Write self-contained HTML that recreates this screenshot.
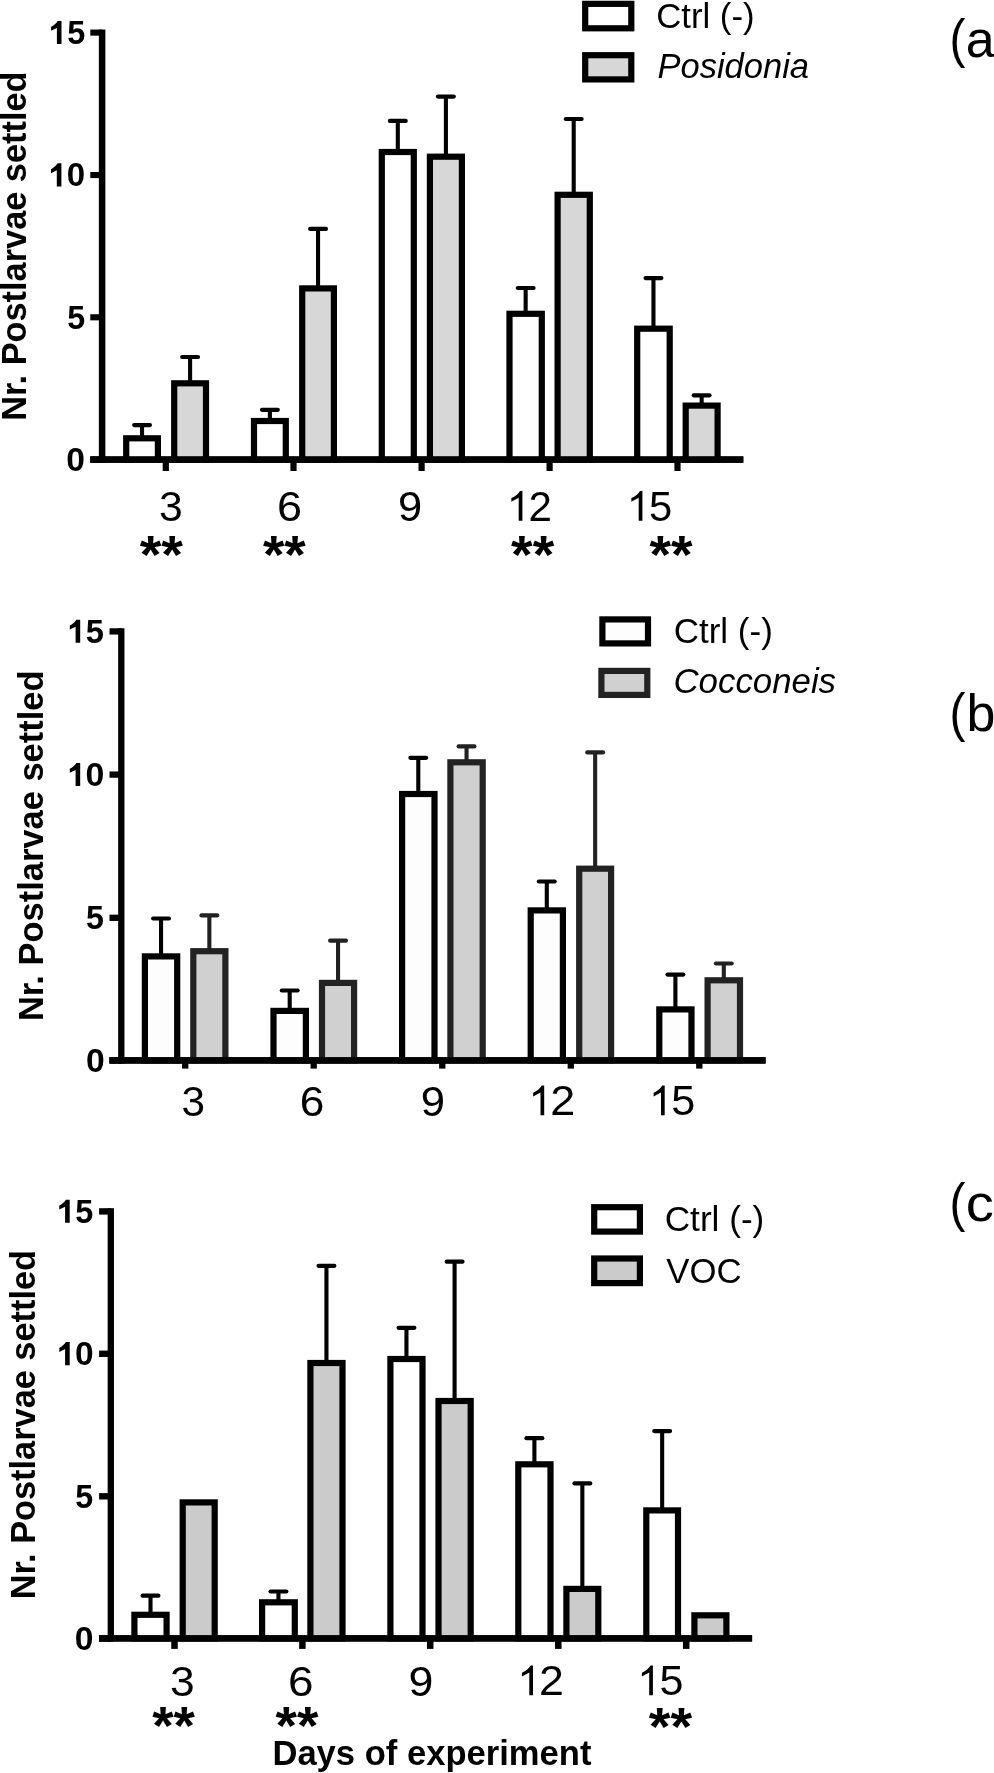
<!DOCTYPE html>
<html><head><meta charset="utf-8"><style>
html,body{margin:0;padding:0;background:#fff;}
body{width:994px;height:1773px;overflow:hidden;}
svg{display:block;will-change:transform;}
text{font-family:"Liberation Sans",sans-serif;}
</style></head><body>
<svg width="994" height="1773" viewBox="0 0 994 1773">

<rect x="98.85" y="29.55" width="6.50" height="433.25" fill="#000"/>
<rect x="90.30" y="29.55" width="11.80" height="6.10" fill="#000"/>
<rect x="90.30" y="172.00" width="11.80" height="6.10" fill="#000"/>
<rect x="90.30" y="314.25" width="11.80" height="6.10" fill="#000"/>
<rect x="90.30" y="456.55" width="11.80" height="6.10" fill="#000"/>
<rect x="90.30" y="456.40" width="653.00" height="6.40" fill="#000"/>
<rect x="162.70" y="459.60" width="6.20" height="11.40" fill="#000"/>
<rect x="290.40" y="459.60" width="6.20" height="11.40" fill="#000"/>
<rect x="418.50" y="459.60" width="6.20" height="11.40" fill="#000"/>
<rect x="546.50" y="459.60" width="6.20" height="11.40" fill="#000"/>
<rect x="674.40" y="459.60" width="6.20" height="11.40" fill="#000"/>
<line x1="142.05" y1="438.30" x2="142.05" y2="425.10" stroke="#000" stroke-width="4.1"/>
<line x1="134.15" y1="425.10" x2="149.95" y2="425.10" stroke="#000" stroke-width="4.2" stroke-linecap="round"/>
<rect x="126.20" y="438.30" width="31.70" height="21.30" fill="#fff" stroke="#000" stroke-width="6.2"/>
<line x1="190.10" y1="383.30" x2="190.10" y2="357.00" stroke="#000" stroke-width="4.1"/>
<line x1="182.20" y1="357.00" x2="198.00" y2="357.00" stroke="#000" stroke-width="4.2" stroke-linecap="round"/>
<rect x="174.20" y="383.30" width="31.80" height="76.30" fill="#d7d7d7" stroke="#000" stroke-width="6.2"/>
<line x1="269.90" y1="421.00" x2="269.90" y2="409.80" stroke="#000" stroke-width="4.1"/>
<line x1="262.00" y1="409.80" x2="277.80" y2="409.80" stroke="#000" stroke-width="4.2" stroke-linecap="round"/>
<rect x="254.00" y="421.00" width="31.80" height="38.60" fill="#fff" stroke="#000" stroke-width="6.2"/>
<line x1="318.05" y1="288.40" x2="318.05" y2="228.90" stroke="#000" stroke-width="4.1"/>
<line x1="310.15" y1="228.90" x2="325.95" y2="228.90" stroke="#000" stroke-width="4.2" stroke-linecap="round"/>
<rect x="302.20" y="288.40" width="31.70" height="171.20" fill="#d7d7d7" stroke="#000" stroke-width="6.2"/>
<line x1="397.80" y1="152.00" x2="397.80" y2="120.90" stroke="#000" stroke-width="4.1"/>
<line x1="389.90" y1="120.90" x2="405.70" y2="120.90" stroke="#000" stroke-width="4.2" stroke-linecap="round"/>
<rect x="381.80" y="152.00" width="32.00" height="307.60" fill="#fff" stroke="#000" stroke-width="6.2"/>
<line x1="445.90" y1="156.70" x2="445.90" y2="96.60" stroke="#000" stroke-width="4.1"/>
<line x1="438.00" y1="96.60" x2="453.80" y2="96.60" stroke="#000" stroke-width="4.2" stroke-linecap="round"/>
<rect x="429.90" y="156.70" width="32.00" height="302.90" fill="#d7d7d7" stroke="#000" stroke-width="6.2"/>
<line x1="525.65" y1="313.80" x2="525.65" y2="288.00" stroke="#000" stroke-width="4.1"/>
<line x1="517.75" y1="288.00" x2="533.55" y2="288.00" stroke="#000" stroke-width="4.2" stroke-linecap="round"/>
<rect x="509.50" y="313.80" width="32.30" height="145.80" fill="#fff" stroke="#000" stroke-width="6.2"/>
<line x1="573.70" y1="194.80" x2="573.70" y2="119.00" stroke="#000" stroke-width="4.1"/>
<line x1="565.80" y1="119.00" x2="581.60" y2="119.00" stroke="#000" stroke-width="4.2" stroke-linecap="round"/>
<rect x="557.60" y="194.80" width="32.20" height="264.80" fill="#d7d7d7" stroke="#000" stroke-width="6.2"/>
<line x1="653.45" y1="328.70" x2="653.45" y2="278.10" stroke="#000" stroke-width="4.1"/>
<line x1="645.55" y1="278.10" x2="661.35" y2="278.10" stroke="#000" stroke-width="4.2" stroke-linecap="round"/>
<rect x="637.20" y="328.70" width="32.50" height="130.90" fill="#fff" stroke="#000" stroke-width="6.2"/>
<line x1="701.65" y1="405.60" x2="701.65" y2="395.30" stroke="#000" stroke-width="4.1"/>
<line x1="693.75" y1="395.30" x2="709.55" y2="395.30" stroke="#000" stroke-width="4.2" stroke-linecap="round"/>
<rect x="685.70" y="405.60" width="31.90" height="54.00" fill="#d7d7d7" stroke="#000" stroke-width="6.2"/>
<rect x="90.30" y="456.40" width="653.00" height="6.40" fill="#000"/>
<rect x="585.20" y="3.85" width="46.10" height="24.45" fill="#fff" stroke="#000" stroke-width="6.2"/>
<rect x="585.20" y="55.20" width="46.10" height="24.20" fill="#d7d7d7" stroke="#000" stroke-width="6.2"/>
<path d="M56.90,44.00 L61.50,44.00 L61.50,20.90 L57.70,20.90 C56.30,23.30 53.70,25.50 51.10,26.70 L51.10,30.70 L56.90,27.90 Z" fill="#000"/><text x="67.15" y="44.00" style="font-weight:700;font-style:normal;font-size:34px" fill="#000" textLength="18.02" lengthAdjust="spacingAndGlyphs">5</text>
<path d="M56.80,186.45 L61.40,186.45 L61.40,163.35 L57.60,163.35 C56.20,165.75 53.60,167.95 51.00,169.15 L51.00,173.15 L56.80,170.35 Z" fill="#000"/><text x="66.78" y="186.45" style="font-weight:700;font-style:normal;font-size:34px" fill="#000" textLength="18.38" lengthAdjust="spacingAndGlyphs">0</text>
<text x="67.15" y="328.70" style="font-weight:700;font-style:normal;font-size:34px" fill="#000" textLength="17.91" lengthAdjust="spacingAndGlyphs">5</text>
<text x="66.36" y="471.00" style="font-weight:700;font-style:normal;font-size:34px" fill="#000" textLength="18.73" lengthAdjust="spacingAndGlyphs">0</text>
<text x="159.06" y="521.40" style="font-weight:400;font-style:normal;font-size:43px" fill="#000" textLength="23.74" lengthAdjust="spacingAndGlyphs">3</text>
<text x="276.94" y="521.40" style="font-weight:400;font-style:normal;font-size:43px" fill="#000" textLength="25.07" lengthAdjust="spacingAndGlyphs">6</text>
<text x="397.98" y="521.40" style="font-weight:400;font-style:normal;font-size:43px" fill="#000" textLength="24.16" lengthAdjust="spacingAndGlyphs">9</text>
<path d="M518.70,520.70 L522.40,520.70 L522.40,491.00 L520.00,491.00 C518.50,493.80 515.30,496.40 511.40,498.10 L511.30,501.80 L518.70,497.80 Z" fill="#000"/><text x="528.60" y="520.70" style="font-weight:400;font-style:normal;font-size:43px" fill="#000" textLength="23.43" lengthAdjust="spacingAndGlyphs">2</text>
<path d="M638.70,520.70 L642.40,520.70 L642.40,491.00 L640.00,491.00 C638.50,493.80 635.30,496.40 631.40,498.10 L631.30,501.80 L638.70,497.80 Z" fill="#000"/><text x="649.10" y="520.70" style="font-weight:400;font-style:normal;font-size:43px" fill="#000" textLength="23.27" lengthAdjust="spacingAndGlyphs">5</text>
<text x="139.74" y="572.95" style="font-weight:700;font-style:normal;font-size:54px" fill="#000" textLength="43.25" lengthAdjust="spacingAndGlyphs">**</text>
<text x="262.95" y="572.95" style="font-weight:700;font-style:normal;font-size:54px" fill="#000" textLength="42.84" lengthAdjust="spacingAndGlyphs">**</text>
<text x="511.14" y="572.95" style="font-weight:700;font-style:normal;font-size:54px" fill="#000" textLength="43.04" lengthAdjust="spacingAndGlyphs">**</text>
<text x="649.54" y="572.95" style="font-weight:700;font-style:normal;font-size:54px" fill="#000" textLength="43.04" lengthAdjust="spacingAndGlyphs">**</text>
<text x="656.24" y="27.70" style="font-weight:400;font-style:normal;font-size:34.5px" fill="#000" textLength="98.26" lengthAdjust="spacingAndGlyphs">Ctrl (-)</text>
<text x="657.50" y="78.00" style="font-weight:400;font-style:italic;font-size:34.5px" fill="#000" textLength="151.50" lengthAdjust="spacingAndGlyphs">Posidonia</text>
<text x="949.38" y="56.70" style="font-weight:400;font-style:normal;font-size:53.5px" fill="#000" textLength="16.00" lengthAdjust="spacingAndGlyphs">(</text>
<text x="965.65" y="56.70" style="font-weight:400;font-style:normal;font-size:52px" fill="#000">a</text>
<text transform="translate(26.20,420.68) rotate(-90)" x="0" y="0" style="font-weight:700;font-style:normal;font-size:35.5px" textLength="349.19" lengthAdjust="spacingAndGlyphs">Nr. Postlarvae settled</text>
<rect x="118.15" y="628.25" width="6.30" height="435.35" fill="#000"/>
<rect x="109.50" y="628.25" width="11.80" height="6.30" fill="#000"/>
<rect x="109.50" y="771.45" width="11.80" height="6.30" fill="#000"/>
<rect x="109.50" y="914.65" width="11.80" height="6.30" fill="#000"/>
<rect x="109.50" y="1057.25" width="11.80" height="6.30" fill="#000"/>
<rect x="109.50" y="1057.20" width="656.10" height="6.40" fill="#000"/>
<rect x="182.05" y="1060.40" width="6.30" height="8.20" fill="#000"/>
<rect x="310.55" y="1060.40" width="6.30" height="8.20" fill="#000"/>
<rect x="439.15" y="1060.40" width="6.30" height="8.20" fill="#000"/>
<rect x="567.65" y="1060.40" width="6.30" height="8.20" fill="#000"/>
<rect x="696.15" y="1060.40" width="6.30" height="8.20" fill="#000"/>
<line x1="161.05" y1="956.40" x2="161.05" y2="918.50" stroke="#000" stroke-width="4.1"/>
<line x1="153.15" y1="918.50" x2="168.95" y2="918.50" stroke="#000" stroke-width="4.2" stroke-linecap="round"/>
<rect x="144.90" y="956.40" width="32.30" height="104.00" fill="#fdfdfd" stroke="#000" stroke-width="6.2"/>
<line x1="209.35" y1="951.20" x2="209.35" y2="915.40" stroke="#222" stroke-width="4.1"/>
<line x1="201.45" y1="915.40" x2="217.25" y2="915.40" stroke="#222" stroke-width="4.2" stroke-linecap="round"/>
<rect x="193.30" y="951.20" width="32.10" height="109.20" fill="#d0d0d0" stroke="#222" stroke-width="6.2"/>
<line x1="289.70" y1="1010.90" x2="289.70" y2="990.50" stroke="#000" stroke-width="4.1"/>
<line x1="281.80" y1="990.50" x2="297.60" y2="990.50" stroke="#000" stroke-width="4.2" stroke-linecap="round"/>
<rect x="273.50" y="1010.90" width="32.40" height="49.50" fill="#fdfdfd" stroke="#000" stroke-width="6.2"/>
<line x1="338.05" y1="982.90" x2="338.05" y2="940.70" stroke="#222" stroke-width="4.1"/>
<line x1="330.15" y1="940.70" x2="345.95" y2="940.70" stroke="#222" stroke-width="4.2" stroke-linecap="round"/>
<rect x="322.00" y="982.90" width="32.10" height="77.50" fill="#d0d0d0" stroke="#222" stroke-width="6.2"/>
<line x1="418.30" y1="794.00" x2="418.30" y2="757.80" stroke="#000" stroke-width="4.1"/>
<line x1="410.40" y1="757.80" x2="426.20" y2="757.80" stroke="#000" stroke-width="4.2" stroke-linecap="round"/>
<rect x="402.10" y="794.00" width="32.40" height="266.40" fill="#fdfdfd" stroke="#000" stroke-width="6.2"/>
<line x1="466.55" y1="762.30" x2="466.55" y2="746.40" stroke="#222" stroke-width="4.1"/>
<line x1="458.65" y1="746.40" x2="474.45" y2="746.40" stroke="#222" stroke-width="4.2" stroke-linecap="round"/>
<rect x="450.40" y="762.30" width="32.30" height="298.10" fill="#d0d0d0" stroke="#222" stroke-width="6.2"/>
<line x1="546.80" y1="910.40" x2="546.80" y2="881.50" stroke="#000" stroke-width="4.1"/>
<line x1="538.90" y1="881.50" x2="554.70" y2="881.50" stroke="#000" stroke-width="4.2" stroke-linecap="round"/>
<rect x="530.70" y="910.40" width="32.20" height="150.00" fill="#fdfdfd" stroke="#000" stroke-width="6.2"/>
<line x1="595.15" y1="868.70" x2="595.15" y2="752.40" stroke="#222" stroke-width="4.1"/>
<line x1="587.25" y1="752.40" x2="603.05" y2="752.40" stroke="#222" stroke-width="4.2" stroke-linecap="round"/>
<rect x="579.20" y="868.70" width="31.90" height="191.70" fill="#d0d0d0" stroke="#222" stroke-width="6.2"/>
<line x1="675.40" y1="1009.40" x2="675.40" y2="974.60" stroke="#000" stroke-width="4.1"/>
<line x1="667.50" y1="974.60" x2="683.30" y2="974.60" stroke="#000" stroke-width="4.2" stroke-linecap="round"/>
<rect x="659.30" y="1009.40" width="32.20" height="51.00" fill="#fdfdfd" stroke="#000" stroke-width="6.2"/>
<line x1="723.80" y1="980.30" x2="723.80" y2="963.50" stroke="#222" stroke-width="4.1"/>
<line x1="715.90" y1="963.50" x2="731.70" y2="963.50" stroke="#222" stroke-width="4.2" stroke-linecap="round"/>
<rect x="707.60" y="980.30" width="32.40" height="80.10" fill="#d0d0d0" stroke="#222" stroke-width="6.2"/>
<rect x="109.50" y="1057.20" width="656.10" height="6.40" fill="#000"/>
<rect x="602.40" y="619.40" width="45.60" height="24.00" fill="#fdfdfd" stroke="#000" stroke-width="6.2"/>
<rect x="601.40" y="670.90" width="45.90" height="24.00" fill="#d0d0d0" stroke="#222" stroke-width="6.2"/>
<path d="M75.60,642.80 L80.20,642.80 L80.20,619.70 L76.40,619.70 C75.00,622.10 72.40,624.30 69.80,625.50 L69.80,629.50 L75.60,626.70 Z" fill="#000"/><text x="85.84" y="642.80" style="font-weight:700;font-style:normal;font-size:34px" fill="#000" textLength="18.13" lengthAdjust="spacingAndGlyphs">5</text>
<path d="M75.60,786.00 L80.20,786.00 L80.20,762.90 L76.40,762.90 C75.00,765.30 72.40,767.50 69.80,768.70 L69.80,772.70 L75.60,769.90 Z" fill="#000"/><text x="85.55" y="786.00" style="font-weight:700;font-style:normal;font-size:34px" fill="#000" textLength="18.85" lengthAdjust="spacingAndGlyphs">0</text>
<text x="86.05" y="929.20" style="font-weight:700;font-style:normal;font-size:34px" fill="#000" textLength="17.91" lengthAdjust="spacingAndGlyphs">5</text>
<text x="85.96" y="1071.80" style="font-weight:700;font-style:normal;font-size:34px" fill="#000" textLength="18.73" lengthAdjust="spacingAndGlyphs">0</text>
<text x="181.58" y="1115.50" style="font-weight:400;font-style:normal;font-size:43px" fill="#000" textLength="23.51" lengthAdjust="spacingAndGlyphs">3</text>
<text x="299.69" y="1115.50" style="font-weight:400;font-style:normal;font-size:43px" fill="#000" textLength="24.59" lengthAdjust="spacingAndGlyphs">6</text>
<text x="420.67" y="1115.50" style="font-weight:400;font-style:normal;font-size:43px" fill="#000" textLength="24.28" lengthAdjust="spacingAndGlyphs">9</text>
<path d="M540.50,1115.30 L544.20,1115.30 L544.20,1085.60 L541.80,1085.60 C540.30,1088.40 537.10,1091.00 533.20,1092.70 L533.10,1096.40 L540.50,1092.40 Z" fill="#000"/><text x="550.25" y="1115.30" style="font-weight:400;font-style:normal;font-size:43px" fill="#000" textLength="25.03" lengthAdjust="spacingAndGlyphs">2</text>
<path d="M661.00,1115.30 L664.70,1115.30 L664.70,1085.60 L662.30,1085.60 C660.80,1088.40 657.60,1091.00 653.70,1092.70 L653.60,1096.40 L661.00,1092.40 Z" fill="#000"/><text x="671.35" y="1115.30" style="font-weight:400;font-style:normal;font-size:43px" fill="#000" textLength="23.98" lengthAdjust="spacingAndGlyphs">5</text>
<text x="673.72" y="642.70" style="font-weight:400;font-style:normal;font-size:34.5px" fill="#000" textLength="99.09" lengthAdjust="spacingAndGlyphs">Ctrl (-)</text>
<text x="673.48" y="693.00" style="font-weight:400;font-style:italic;font-size:34.5px" fill="#000" textLength="162.57" lengthAdjust="spacingAndGlyphs">Cocconeis</text>
<text x="949.38" y="731.00" style="font-weight:400;font-style:normal;font-size:53.5px" fill="#000" textLength="16.00" lengthAdjust="spacingAndGlyphs">(</text>
<text x="966.55" y="731.00" style="font-weight:400;font-style:normal;font-size:52px" fill="#000">b</text>
<text transform="translate(42.90,1021.08) rotate(-90)" x="0" y="0" style="font-weight:700;font-style:normal;font-size:35.5px" textLength="350.61" lengthAdjust="spacingAndGlyphs">Nr. Postlarvae settled</text>
<rect x="107.65" y="1208.20" width="6.30" height="433.35" fill="#000"/>
<rect x="99.10" y="1208.20" width="11.70" height="6.40" fill="#000"/>
<rect x="99.10" y="1350.60" width="11.70" height="6.40" fill="#000"/>
<rect x="99.10" y="1493.10" width="11.70" height="6.40" fill="#000"/>
<rect x="99.10" y="1635.20" width="11.70" height="6.40" fill="#000"/>
<rect x="99.10" y="1635.25" width="653.00" height="6.30" fill="#000"/>
<rect x="171.25" y="1638.40" width="6.50" height="10.50" fill="#000"/>
<rect x="299.15" y="1638.40" width="6.50" height="10.50" fill="#000"/>
<rect x="426.95" y="1638.40" width="6.50" height="10.50" fill="#000"/>
<rect x="555.05" y="1638.40" width="6.50" height="10.50" fill="#000"/>
<rect x="682.95" y="1638.40" width="6.50" height="10.50" fill="#000"/>
<line x1="150.50" y1="1614.80" x2="150.50" y2="1595.70" stroke="#000" stroke-width="4.1"/>
<line x1="142.60" y1="1595.70" x2="158.40" y2="1595.70" stroke="#000" stroke-width="4.2" stroke-linecap="round"/>
<rect x="134.40" y="1614.80" width="32.20" height="23.60" fill="#fff" stroke="#000" stroke-width="6.2"/>
<rect x="182.70" y="1502.40" width="32.00" height="136.00" fill="#cbcbcb" stroke="#000" stroke-width="6.2"/>
<line x1="278.45" y1="1602.30" x2="278.45" y2="1591.50" stroke="#000" stroke-width="4.1"/>
<line x1="270.55" y1="1591.50" x2="286.35" y2="1591.50" stroke="#000" stroke-width="4.2" stroke-linecap="round"/>
<rect x="262.10" y="1602.30" width="32.70" height="36.10" fill="#fff" stroke="#000" stroke-width="6.2"/>
<line x1="326.45" y1="1363.00" x2="326.45" y2="1265.80" stroke="#000" stroke-width="4.1"/>
<line x1="318.55" y1="1265.80" x2="334.35" y2="1265.80" stroke="#000" stroke-width="4.2" stroke-linecap="round"/>
<rect x="310.40" y="1363.00" width="32.10" height="275.40" fill="#cbcbcb" stroke="#000" stroke-width="6.2"/>
<line x1="406.45" y1="1359.00" x2="406.45" y2="1327.80" stroke="#000" stroke-width="4.1"/>
<line x1="398.55" y1="1327.80" x2="414.35" y2="1327.80" stroke="#000" stroke-width="4.2" stroke-linecap="round"/>
<rect x="390.40" y="1359.00" width="32.10" height="279.40" fill="#fff" stroke="#000" stroke-width="6.2"/>
<line x1="454.60" y1="1401.00" x2="454.60" y2="1261.70" stroke="#000" stroke-width="4.1"/>
<line x1="446.70" y1="1261.70" x2="462.50" y2="1261.70" stroke="#000" stroke-width="4.2" stroke-linecap="round"/>
<rect x="438.50" y="1401.00" width="32.20" height="237.40" fill="#cbcbcb" stroke="#000" stroke-width="6.2"/>
<line x1="534.40" y1="1464.30" x2="534.40" y2="1438.20" stroke="#000" stroke-width="4.1"/>
<line x1="526.50" y1="1438.20" x2="542.30" y2="1438.20" stroke="#000" stroke-width="4.2" stroke-linecap="round"/>
<rect x="518.30" y="1464.30" width="32.20" height="174.10" fill="#fff" stroke="#000" stroke-width="6.2"/>
<line x1="582.35" y1="1588.90" x2="582.35" y2="1483.40" stroke="#000" stroke-width="4.1"/>
<line x1="574.45" y1="1483.40" x2="590.25" y2="1483.40" stroke="#000" stroke-width="4.2" stroke-linecap="round"/>
<rect x="566.40" y="1588.90" width="31.90" height="49.50" fill="#cbcbcb" stroke="#000" stroke-width="6.2"/>
<line x1="662.15" y1="1510.40" x2="662.15" y2="1431.10" stroke="#000" stroke-width="4.1"/>
<line x1="654.25" y1="1431.10" x2="670.05" y2="1431.10" stroke="#000" stroke-width="4.2" stroke-linecap="round"/>
<rect x="646.30" y="1510.40" width="31.70" height="128.00" fill="#fff" stroke="#000" stroke-width="6.2"/>
<rect x="694.40" y="1615.30" width="32.00" height="23.10" fill="#cbcbcb" stroke="#000" stroke-width="6.2"/>
<rect x="99.10" y="1635.25" width="653.00" height="6.30" fill="#000"/>
<rect x="594.20" y="1207.20" width="45.70" height="24.40" fill="#fff" stroke="#000" stroke-width="6.2"/>
<rect x="594.20" y="1258.50" width="45.70" height="24.60" fill="#cbcbcb" stroke="#000" stroke-width="6.2"/>
<path d="M65.10,1222.80 L69.70,1222.80 L69.70,1199.70 L65.90,1199.70 C64.50,1202.10 61.90,1204.30 59.30,1205.50 L59.30,1209.50 L65.10,1206.70 Z" fill="#000"/><text x="75.35" y="1222.80" style="font-weight:700;font-style:normal;font-size:34px" fill="#000" textLength="18.02" lengthAdjust="spacingAndGlyphs">5</text>
<path d="M65.10,1365.20 L69.70,1365.20 L69.70,1342.10 L65.90,1342.10 C64.50,1344.50 61.90,1346.70 59.30,1347.90 L59.30,1351.90 L65.10,1349.10 Z" fill="#000"/><text x="75.07" y="1365.20" style="font-weight:700;font-style:normal;font-size:34px" fill="#000" textLength="18.62" lengthAdjust="spacingAndGlyphs">0</text>
<text x="75.35" y="1507.70" style="font-weight:700;font-style:normal;font-size:34px" fill="#000" textLength="17.91" lengthAdjust="spacingAndGlyphs">5</text>
<text x="74.86" y="1649.80" style="font-weight:700;font-style:normal;font-size:34px" fill="#000" textLength="18.73" lengthAdjust="spacingAndGlyphs">0</text>
<text x="169.99" y="1695.70" style="font-weight:400;font-style:normal;font-size:43px" fill="#000" textLength="24.69" lengthAdjust="spacingAndGlyphs">3</text>
<text x="288.10" y="1695.70" style="font-weight:400;font-style:normal;font-size:43px" fill="#000" textLength="25.56" lengthAdjust="spacingAndGlyphs">6</text>
<text x="408.52" y="1695.70" style="font-weight:400;font-style:normal;font-size:43px" fill="#000" textLength="24.88" lengthAdjust="spacingAndGlyphs">9</text>
<path d="M529.30,1695.30 L533.00,1695.30 L533.00,1665.60 L530.60,1665.60 C529.10,1668.40 525.90,1671.00 522.00,1672.70 L521.90,1676.40 L529.30,1672.40 Z" fill="#000"/><text x="539.06" y="1695.30" style="font-weight:400;font-style:normal;font-size:43px" fill="#000" textLength="24.90" lengthAdjust="spacingAndGlyphs">2</text>
<path d="M649.20,1695.30 L652.90,1695.30 L652.90,1665.60 L650.50,1665.60 C649.00,1668.40 645.80,1671.00 641.90,1672.70 L641.80,1676.40 L649.20,1672.40 Z" fill="#000"/><text x="659.55" y="1695.30" style="font-weight:400;font-style:normal;font-size:43px" fill="#000" textLength="23.98" lengthAdjust="spacingAndGlyphs">5</text>
<text x="152.25" y="1743.85" style="font-weight:700;font-style:normal;font-size:54px" fill="#000" textLength="42.74" lengthAdjust="spacingAndGlyphs">**</text>
<text x="275.55" y="1743.85" style="font-weight:700;font-style:normal;font-size:54px" fill="#000" textLength="42.84" lengthAdjust="spacingAndGlyphs">**</text>
<text x="648.74" y="1744.85" style="font-weight:700;font-style:normal;font-size:54px" fill="#000" textLength="43.35" lengthAdjust="spacingAndGlyphs">**</text>
<text x="664.72" y="1231.20" style="font-weight:400;font-style:normal;font-size:34.5px" fill="#000" textLength="99.62" lengthAdjust="spacingAndGlyphs">Ctrl (-)</text>
<text x="666.25" y="1282.75" style="font-weight:400;font-style:normal;font-size:34.5px" fill="#000" textLength="75.28" lengthAdjust="spacingAndGlyphs">VOC</text>
<text x="949.38" y="1221.00" style="font-weight:400;font-style:normal;font-size:53.5px" fill="#000" textLength="16.00" lengthAdjust="spacingAndGlyphs">(</text>
<text x="965.66" y="1221.00" style="font-weight:400;font-style:normal;font-size:52px" fill="#000" textLength="28.16" lengthAdjust="spacingAndGlyphs">c</text>
<text x="272.41" y="1764.90" style="font-weight:700;font-style:normal;font-size:35.5px" fill="#000" textLength="319.00" lengthAdjust="spacingAndGlyphs">Days of experiment</text>
<text transform="translate(34.80,1599.18) rotate(-90)" x="0" y="0" style="font-weight:700;font-style:normal;font-size:35.5px" textLength="349.19" lengthAdjust="spacingAndGlyphs">Nr. Postlarvae settled</text>
</svg>
</body></html>
